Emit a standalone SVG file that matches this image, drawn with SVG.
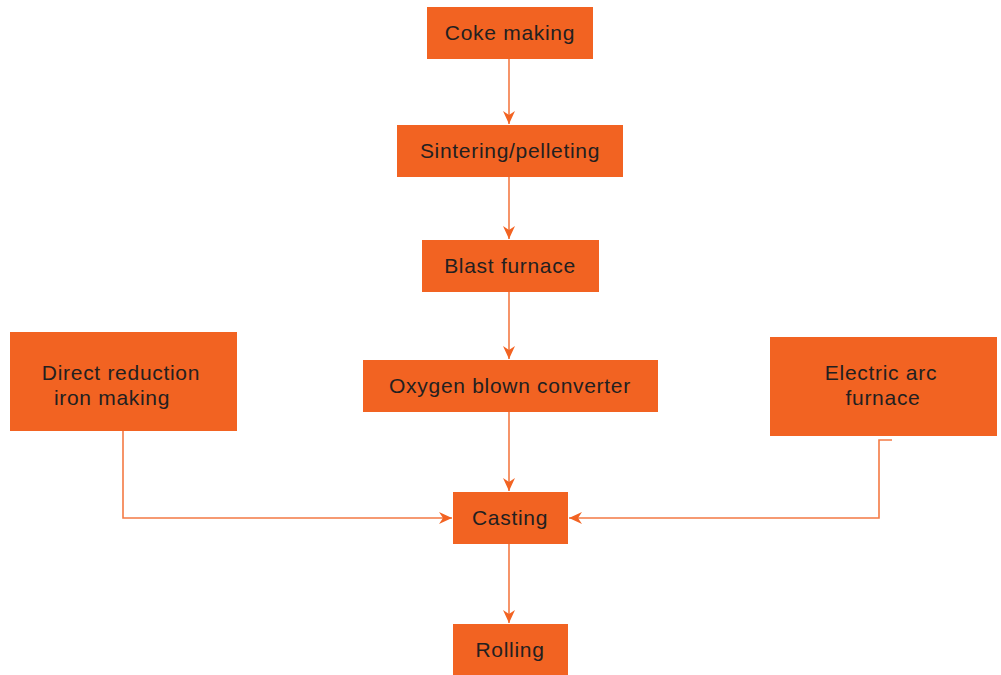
<svg xmlns="http://www.w3.org/2000/svg" width="1001" height="675" viewBox="0 0 1001 675">
<defs>
<style>
.box{fill:#F26322;}
.t{font-family:"Liberation Sans",Arial,sans-serif;font-size:21px;letter-spacing:0.7px;fill:#231F20;text-anchor:middle;}
.c{fill:none;stroke:#F47A44;stroke-width:1.6;}
</style>
<marker id="ah" viewBox="0 0 13 12" refX="13" refY="6" markerWidth="13" markerHeight="12" markerUnits="userSpaceOnUse" orient="auto">
<path d="M0,0 L13,6 L0,12 L4,6 Z" fill="#F26322"/>
</marker>
</defs>
<rect width="1001" height="675" fill="#fff"/>
<g id="connectors">
<line class="c" x1="509" y1="59" x2="509" y2="124" marker-end="url(#ah)"/>
<line class="c" x1="509" y1="177" x2="509" y2="239" marker-end="url(#ah)"/>
<line class="c" x1="509" y1="292" x2="509" y2="359" marker-end="url(#ah)"/>
<line class="c" x1="509" y1="412" x2="509" y2="491" marker-end="url(#ah)"/>
<line class="c" x1="509" y1="544" x2="509" y2="623" marker-end="url(#ah)"/>
<polyline class="c" points="123,431 123,518 452,518" marker-end="url(#ah)"/>
<polyline class="c" points="892,440 879,440 879,518 569,518" marker-end="url(#ah)"/>
</g>
<g id="coke"><rect class="box" x="427" y="7" width="166" height="52"/><text class="t" x="510" y="40">Coke making</text></g>
<g id="sinter"><rect class="box" x="397" y="125" width="226" height="52"/><text class="t" x="510" y="158">Sintering/pelleting</text></g>
<g id="blast"><rect class="box" x="422" y="240" width="177" height="52"/><text class="t" x="510" y="273">Blast furnace</text></g>
<g id="oxygen"><rect class="box" x="363" y="360" width="295" height="52"/><text class="t" x="510" y="393">Oxygen blown converter</text></g>
<g id="direct"><rect class="box" x="10" y="332" width="227" height="99"/><text class="t" x="121" y="380">Direct reduction</text><text class="t" x="112" y="405">iron making</text></g>
<g id="eaf"><rect class="box" x="770" y="337" width="227" height="99"/><text class="t" x="881" y="380">Electric arc</text><text class="t" x="883" y="405">furnace</text></g>
<g id="casting"><rect class="box" x="453" y="492" width="115" height="52"/><text class="t" x="510" y="525">Casting</text></g>
<g id="rolling"><rect class="box" x="453" y="624" width="115" height="51"/><text class="t" x="510" y="657">Rolling</text></g>
</svg>
